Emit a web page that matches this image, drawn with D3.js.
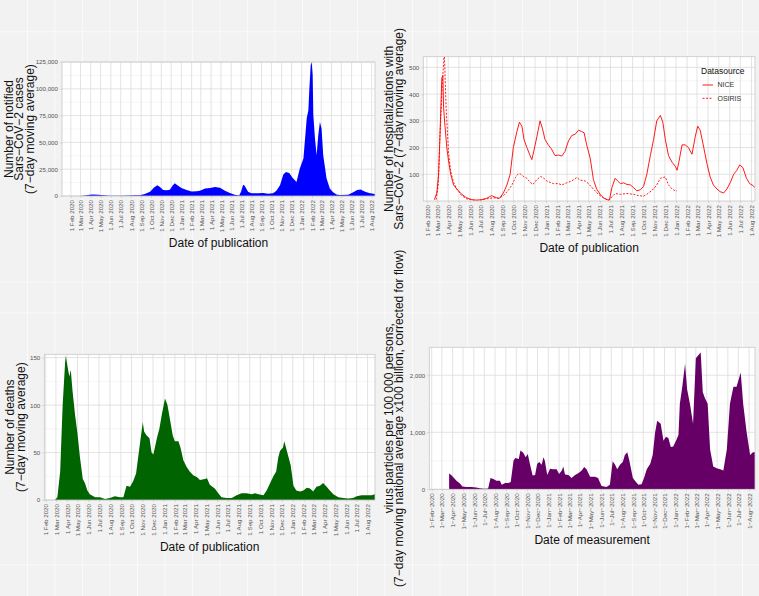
<!DOCTYPE html>
<html><head><meta charset="utf-8">
<script src="https://cdn.jsdelivr.net/npm/d3@7"></script>
<style>
html,body{margin:0;padding:0;background:#f2f2f2;}
svg{display:block;}
svg text{font-family:"Liberation Sans",Arial,Helvetica,sans-serif;}
</style></head><body>
<svg id="c" width="759" height="596"></svg>
<script>
// ---------- DATA ----------
const casesDates = ["2020-02-28","2020-03-14","2020-03-29","2020-04-08","2020-04-24","2020-05-09","2020-05-29","2020-06-29","2020-07-29","2020-08-13","2020-08-28","2020-09-12","2020-09-28","2020-10-10","2020-10-20","2020-10-28","2020-11-07","2020-11-17","2020-11-27","2020-12-05","2020-12-12","2020-12-20","2021-01-01","2021-01-17","2021-02-01","2021-02-16","2021-02-26","2021-03-14","2021-03-29","2021-04-13","2021-04-28","2021-05-13","2021-05-28","2021-06-12","2021-06-25","2021-07-01","2021-07-07","2021-07-12","2021-07-22","2021-08-01","2021-08-22","2021-09-06","2021-09-21","2021-10-06","2021-10-16","2021-10-27","2021-11-06","2021-11-14","2021-11-24","2021-12-04","2021-12-16","2021-12-26","2022-01-06","2022-01-11","2022-01-16","2022-01-21","2022-01-24","2022-01-28","2022-01-31","2022-02-03","2022-02-05","2022-02-10","2022-02-15","2022-02-20","2022-02-25","2022-03-02","2022-03-07","2022-03-17","2022-03-27","2022-04-06","2022-04-16","2022-04-26","2022-05-22","2022-06-06","2022-06-18","2022-06-28","2022-07-12","2022-07-27","2022-08-11"];
const casesValues = [0,400,1100,1300,1100,600,300,200,500,600,800,1800,4000,8000,10000,8500,5500,5400,5800,9500,12000,10000,7500,5500,4200,4500,5000,7000,7500,8500,7800,5000,2800,1200,500,4000,10500,9500,4000,2500,2600,2800,2000,2500,5000,10000,20000,22500,21500,17000,13000,25600,35000,53700,72500,80000,100000,122000,125000,113000,75600,53700,38000,57000,69000,63000,38000,16600,7000,3500,1500,1000,1200,3500,5500,6000,4000,2500,1800];

const niceDates = ["2020-02-22","2020-02-29","2020-03-05","2020-03-09","2020-03-14","2020-03-17","2020-03-19","2020-03-23","2020-03-28","2020-04-02","2020-04-08","2020-04-16","2020-04-25","2020-05-09","2020-05-23","2020-06-06","2020-06-20","2020-07-04","2020-07-18","2020-08-01","2020-08-15","2020-08-23","2020-09-03","2020-09-13","2020-09-22","2020-10-01","2020-10-11","2020-10-18","2020-10-25","2020-10-31","2020-11-08","2020-11-17","2020-11-22","2020-11-28","2020-12-06","2020-12-15","2020-12-22","2020-12-29","2021-01-07","2021-01-16","2021-01-26","2021-02-05","2021-02-14","2021-02-23","2021-03-05","2021-03-14","2021-03-24","2021-04-02","2021-04-11","2021-04-18","2021-04-25","2021-05-05","2021-05-14","2021-05-23","2021-06-02","2021-06-11","2021-06-21","2021-06-28","2021-07-05","2021-07-14","2021-07-21","2021-07-29","2021-08-07","2021-08-16","2021-08-26","2021-09-04","2021-09-13","2021-09-23","2021-10-02","2021-10-11","2021-10-21","2021-10-30","2021-11-08","2021-11-18","2021-11-25","2021-12-02","2021-12-11","2021-12-21","2021-12-30","2022-01-04","2022-01-09","2022-01-18","2022-01-27","2022-02-05","2022-02-15","2022-02-24","2022-03-03","2022-03-10","2022-03-20","2022-03-29","2022-04-07","2022-04-16","2022-04-26","2022-05-05","2022-05-15","2022-05-24","2022-06-03","2022-06-12","2022-06-21","2022-06-29","2022-07-08","2022-07-18","2022-07-27","2022-08-05","2022-08-11"];
const niceValues = [5,30,100,250,460,470,350,280,200,150,100,60,45,25,12,5,3,5,10,20,12,10,30,60,100,200,260,295,280,230,200,170,155,190,240,300,270,230,210,195,170,172,168,185,225,245,250,265,260,255,210,160,80,45,25,12,5,3,50,85,75,65,68,62,60,50,38,42,55,100,170,230,300,320,295,230,170,145,130,115,145,210,210,200,175,240,280,265,200,140,90,60,45,35,30,45,70,100,115,135,125,85,65,58,50];

const osirisDates = ["2020-02-27","2020-03-04","2020-03-09","2020-03-16","2020-03-21","2020-03-26","2020-04-02","2020-04-08","2020-04-16","2020-04-25","2020-05-09","2020-05-23","2020-06-11","2020-06-30","2020-07-18","2020-08-06","2020-08-20","2020-09-03","2020-09-17","2020-09-27","2020-10-06","2020-10-13","2020-10-20","2020-10-29","2020-11-08","2020-11-17","2020-11-25","2020-12-06","2020-12-17","2020-12-26","2021-01-03","2021-01-12","2021-01-22","2021-02-05","2021-02-14","2021-02-28","2021-03-14","2021-03-28","2021-04-07","2021-04-21","2021-04-30","2021-05-14","2021-05-28","2021-06-11","2021-06-25","2021-07-05","2021-07-14","2021-07-29","2021-08-16","2021-09-04","2021-09-18","2021-10-02","2021-10-11","2021-10-26","2021-11-08","2021-11-18","2021-12-02","2021-12-11","2021-12-21","2021-12-30","2022-01-04"];
const osirisValues = [5,60,250,450,560,350,180,110,70,45,20,8,3,3,8,12,10,20,40,60,85,100,102,92,85,70,62,80,92,85,75,70,65,65,60,68,75,88,78,75,65,45,25,12,3,15,28,25,28,25,20,18,25,40,60,85,90,60,45,38,38];

const deathsDates = ["2020-02-27","2020-03-05","2020-03-13","2020-03-20","2020-03-27","2020-03-29","2020-04-03","2020-04-08","2020-04-12","2020-04-17","2020-04-24","2020-05-01","2020-05-08","2020-05-16","2020-05-22","2020-05-29","2020-06-05","2020-06-20","2020-07-04","2020-07-18","2020-08-01","2020-08-15","2020-08-29","2020-09-08","2020-09-17","2020-09-27","2020-10-06","2020-10-14","2020-10-20","2020-10-27","2020-11-02","2020-11-06","2020-11-13","2020-11-21","2020-11-27","2020-12-02","2020-12-12","2020-12-19","2020-12-26","2021-01-04","2021-01-11","2021-01-18","2021-01-26","2021-02-01","2021-02-11","2021-02-17","2021-02-25","2021-03-06","2021-03-15","2021-03-25","2021-04-05","2021-04-13","2021-04-27","2021-05-03","2021-05-11","2021-05-25","2021-06-04","2021-06-13","2021-06-27","2021-07-12","2021-07-26","2021-08-09","2021-08-23","2021-09-07","2021-09-16","2021-09-26","2021-10-10","2021-10-19","2021-10-29","2021-11-07","2021-11-15","2021-11-21","2021-11-26","2021-12-04","2021-12-08","2021-12-13","2021-12-20","2021-12-26","2022-01-03","2022-01-11","2022-01-22","2022-01-31","2022-02-10","2022-02-19","2022-02-28","2022-03-09","2022-03-19","2022-03-28","2022-04-07","2022-04-16","2022-04-26","2022-05-10","2022-05-24","2022-06-07","2022-06-21","2022-07-01","2022-07-15","2022-07-29","2022-08-12","2022-08-22"];
const deathsValues = [0,3,30,100,145,152,140,130,137,115,90,70,45,22,18,10,6,3,3,1,2,4,3,3,15,14,20,28,45,65,82,72,68,65,50,48,65,75,90,107,100,85,68,62,62,55,42,35,30,26,24,21,22,23,16,12,7,3,2,2,5,7,7,6,7,6,5,10,18,25,30,45,52,55,62,55,45,37,15,10,9,10,13,12,9,14,15,18,14,10,6,3,2,1.5,2,4,5,5,5,6];

const sewageDates = ["2020-03-22","2020-03-28","2020-04-05","2020-04-12","2020-04-22","2020-04-29","2020-05-11","2020-05-25","2020-06-08","2020-06-18","2020-07-02","2020-07-12","2020-07-19","2020-07-27","2020-08-05","2020-08-15","2020-08-20","2020-08-30","2020-09-08","2020-09-15","2020-09-23","2020-09-28","2020-10-08","2020-10-13","2020-10-21","2020-10-28","2020-11-03","2020-11-09","2020-11-17","2020-11-24","2020-11-30","2020-12-06","2020-12-13","2020-12-18","2020-12-22","2020-12-29","2021-01-06","2021-01-15","2021-01-25","2021-02-01","2021-02-09","2021-02-13","2021-02-18","2021-02-28","2021-03-09","2021-03-19","2021-03-28","2021-04-07","2021-04-14","2021-04-21","2021-05-01","2021-05-15","2021-05-24","2021-06-03","2021-06-17","2021-06-27","2021-07-05","2021-07-12","2021-07-18","2021-07-26","2021-08-03","2021-08-09","2021-08-16","2021-08-22","2021-09-01","2021-09-10","2021-09-17","2021-09-26","2021-10-03","2021-10-11","2021-10-21","2021-10-28","2021-11-04","2021-11-10","2021-11-20","2021-11-28","2021-12-05","2021-12-12","2021-12-19","2021-12-26","2022-01-03","2022-01-10","2022-01-14","2022-01-21","2022-01-29","2022-02-04","2022-02-12","2022-02-21","2022-03-01","2022-03-08","2022-03-15","2022-03-21","2022-03-27","2022-04-04","2022-04-11","2022-04-20","2022-04-30","2022-05-10","2022-05-19","2022-05-29","2022-06-07","2022-06-17","2022-06-26","2022-07-08","2022-07-15","2022-07-25","2022-08-04","2022-08-12","2022-08-18"];
const sewageValues = [275,250,200,150,100,50,40,40,30,20,10,15,200,180,150,150,80,110,110,130,500,550,530,680,640,560,620,450,240,250,450,480,430,560,500,250,360,350,350,270,330,400,260,250,200,250,280,330,390,350,220,220,200,60,40,80,490,430,350,430,480,600,650,500,200,130,80,90,200,350,450,600,1000,1200,1150,850,920,900,740,750,850,950,1500,1800,2200,1750,1500,1150,2300,2350,2400,1700,1600,1500,700,400,370,350,330,700,1500,1800,1800,2050,1500,1000,600,650,650];

const casesTicks = [0,25000,50000,75000,100000,125000];
const hospTicks = [100,200,300,400,500];
const deathsTicks = [0,50,100,150];
const sewageTicks = [0,1000,2000];
const legendLabels = ["NICE","OSIRIS"];

// ---------- HELPERS ----------
const parse = d3.utcParse("%Y-%m-%d");
const svg = d3.select("#c");
const MINUS = "\u2212";
const FONT = "'Liberation Sans',Arial,Helvetica,sans-serif";
const TICKFS = "6.2px";

// background white grid
const bg = svg.append("g");
d3.range(27.5, 759, 27.5).forEach(x => bg.append("line").attr("x1",x).attr("x2",x).attr("y1",0).attr("y2",596).attr("stroke","#fbfbfb").attr("stroke-width",0.8));
[31.7,282,313,565].forEach(y => bg.append("line").attr("x1",0).attr("x2",759).attr("y1",y).attr("y2",y).attr("stroke","#fbfbfb").attr("stroke-width",0.8));

function panel(cfg){
  const {left,right,top,bottom,xDomain,yDomain,yTicks,yMinor,tickFmt,ytitle,ytitleX,xtitle,xtitleY} = cfg;
  const x = d3.scaleUtc().domain(xDomain.map(parse)).range([left,right]);
  const y = d3.scaleLinear().domain(yDomain).range([bottom,top]);
  const g = svg.append("g");
  g.append("rect").attr("x",left).attr("y",top).attr("width",right-left).attr("height",bottom-top).attr("fill","#fff");
  yMinor.forEach(v => { if (v>=yDomain[0] && v<=yDomain[1]) g.append("line").attr("x1",left).attr("x2",right).attr("y1",y(v)).attr("y2",y(v)).attr("stroke","#ececec").attr("stroke-width",0.5); });
  yTicks.forEach(v => g.append("line").attr("x1",left).attr("x2",right).attr("y1",y(v)).attr("y2",y(v)).attr("stroke","#dcdcdc").attr("stroke-width",0.8));
  const months = d3.utcMonth.range(parse("2020-02-01"), parse("2022-08-02"));
  months.forEach(m => g.append("line").attr("x1",x(m)).attr("x2",x(m)).attr("y1",top).attr("y2",bottom).attr("stroke","#dcdcdc").attr("stroke-width",0.8));
  const clipId = "clip"+Math.round(left)+"_"+Math.round(top);
  svg.append("clipPath").attr("id",clipId).append("rect").attr("x",left).attr("y",top).attr("width",right-left).attr("height",bottom-top);
  const data = g.append("g").attr("clip-path",`url(#${clipId})`);
  const ax = g.append("g").attr("transform",`translate(0,${bottom})`)
    .call(d3.axisBottom(x).tickValues(months).tickFormat(tickFmt).tickSize(2).tickPadding(0));
  ax.attr("font-family",FONT).attr("font-size",TICKFS);
  ax.select(".domain").remove();
  ax.selectAll(".tick line").attr("stroke","#b3b3b3").attr("stroke-width",0.5);
  ax.selectAll(".tick text").attr("transform","rotate(-90)").attr("x",-4).attr("y",0).attr("dy","0.35em")
    .style("text-anchor","end").attr("fill","#555").style("font-size",TICKFS);
  const ay = g.append("g").attr("transform",`translate(${left},0)`)
    .call(d3.axisLeft(y).tickValues(yTicks).tickFormat(d3.format(",")).tickSize(2).tickPadding(2));
  ay.attr("font-family",FONT).attr("font-size",TICKFS);
  ay.select(".domain").remove();
  ay.selectAll(".tick line").attr("stroke","#b3b3b3").attr("stroke-width",0.5);
  ay.selectAll(".tick text").attr("fill","#555").style("font-size",TICKFS);
  g.append("rect").attr("x",left).attr("y",top).attr("width",right-left).attr("height",bottom-top).attr("fill","none").attr("stroke","#c8c8c8").attr("stroke-width",0.8);
  const cy = (top+bottom)/2;
  ytitle.forEach((t,i) => svg.append("text").attr("transform",`translate(${ytitleX[i]},${cy}) rotate(-90)`)
    .attr("text-anchor","middle").attr("dy","0.35em").style("font-size","12px").attr("fill","#111").text(t));
  svg.append("text").attr("x",(left+right)/2).attr("y",xtitleY).attr("text-anchor","middle").attr("dy","0.35em")
    .style("font-size","12px").attr("fill","#111").text(xtitle);
  return {x,y,data,g};
}

const fmtPub = d => d3.utcFormat("%-d %b %Y")(d);
const fmtMeas = d => d3.utcFormat("%-d")(d)+MINUS+d3.utcFormat("%b")(d)+MINUS+d3.utcFormat("%Y")(d);

// ---------- PANEL 1: cases ----------
{
  const p = panel({left:62,right:375,top:62,bottom:196,xDomain:["2020-01-05","2022-08-11"],yDomain:[0,125000],
    yTicks:casesTicks,yMinor:[12500,37500,62500,87500,112500],tickFmt:fmtPub,
    ytitle:["Number of notified","Sars"+MINUS+"CoV"+MINUS+"2 cases","(7"+MINUS+"day moving average)"],ytitleX:[8.5,19,29.5],
    xtitle:"Date of publication",xtitleY:243});
  const pts = casesDates.map((d,i)=>({d:parse(d),v:casesValues[i]}));
  p.data.append("path").datum(pts).attr("fill","#0000ff")
    .attr("d",d3.area().x(d=>p.x(d.d)).y0(p.y(0)).y1(d=>p.y(d.v)));
}
// ---------- PANEL 2: hospitalizations ----------
{
  const p = panel({left:423.3,right:755,top:56.7,bottom:201,xDomain:["2020-01-22","2022-08-11"],yDomain:[0,540],
    yTicks:hospTicks,yMinor:[50,150,250,350,450],tickFmt:fmtPub,
    ytitle:["Number of hospitalizations with","Sars"+MINUS+"CoV"+MINUS+"2 (7"+MINUS+"day moving average)"],ytitleX:[388.5,399],
    xtitle:"Date of publication",xtitleY:248});
  const nice = niceDates.map((d,i)=>({d:parse(d),v:niceValues[i]}));
  const osi = osirisDates.map((d,i)=>({d:parse(d),v:osirisValues[i]}));
  const line = d3.line().x(d=>p.x(d.d)).y(d=>p.y(d.v));
  p.data.append("path").datum(osi).attr("fill","none").attr("stroke","#ff0000").attr("stroke-width",0.9).attr("stroke-dasharray","2,1.5").attr("d",line);
  p.data.append("path").datum(nice).attr("fill","none").attr("stroke","#ff0000").attr("stroke-width",0.9).attr("d",line);
  const lg = svg.append("g");
  lg.append("text").attr("x",701).attr("y",70.7).attr("dy","0.35em").style("font-size","8.5px").attr("fill","#111").text("Datasource");
  legendLabels.forEach((t,i)=>{
    const yy = 85 + i*13.3;
    lg.append("line").attr("x1",702.5).attr("x2",713).attr("y1",yy).attr("y2",yy).attr("stroke","#ff0000").attr("stroke-width",0.9)
      .attr("stroke-dasharray", i===1 ? "2,1.5" : null);
    lg.append("text").attr("x",717.5).attr("y",yy).attr("dy","0.35em").style("font-size","7px").attr("fill","#333").text(t);
  });
}
// ---------- PANEL 3: deaths ----------
{
  const p = panel({left:44.3,right:375,top:354.3,bottom:500,xDomain:["2020-01-28","2022-08-22"],yDomain:[0,153.5],
    yTicks:deathsTicks,yMinor:[25,75,125],tickFmt:fmtPub,
    ytitle:["Number of deaths","(7"+MINUS+"day moving average)"],ytitleX:[9.5,20.5],
    xtitle:"Date of publication",xtitleY:547});
  const pts = deathsDates.map((d,i)=>({d:parse(d),v:deathsValues[i]}));
  p.data.append("path").datum(pts).attr("fill","#006400")
    .attr("d",d3.area().x(d=>p.x(d.d)).y0(p.y(0)).y1(d=>p.y(d.v)));
}
// ---------- PANEL 4: sewage ----------
{
  const p = panel({left:429.3,right:755,top:347.3,bottom:489.3,xDomain:["2020-01-25","2022-08-18"],yDomain:[0,2490],
    yTicks:sewageTicks,yMinor:[500,1500,2500],tickFmt:fmtMeas,
    ytitle:["virus particles per 100 000 persons,","(7"+MINUS+"day moving national average x100 billion, corrected for flow)"],ytitleX:[388.5,399],
    xtitle:"Date of measurement",xtitleY:540});
  const pts = sewageDates.map((d,i)=>({d:parse(d),v:sewageValues[i]}));
  p.data.append("path").datum(pts).attr("fill","#660066")
    .attr("d",d3.area().x(d=>p.x(d.d)).y0(p.y(0)).y1(d=>p.y(d.v)));
}
</script>
</body></html>
